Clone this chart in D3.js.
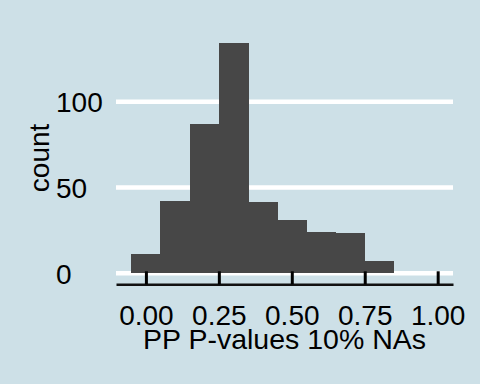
<!DOCTYPE html>
<html>
<head>
<meta charset="utf-8">
<script src="https://cdn.jsdelivr.net/npm/d3@7"></script>
<style>
  body { margin: 0; background: #cde0e7; }
  svg { display: block; }
  text { font-family: "Liberation Sans", Arial, sans-serif; fill: #000; }
</style>
</head>
<body>
<div id="chart"></div>
<script>
// histogram bins (left/right edges) and counts
const binLo = [-0.05, 0.05, 0.15, 0.25, 0.35, 0.45, 0.55, 0.65, 0.75];
const binHi = [0.05, 0.15, 0.25, 0.35, 0.45, 0.55, 0.65, 0.75, 0.85];
const counts = [11, 42, 87, 134, 41, 31, 24, 23, 7];
const xTicks = [0, 0.25, 0.5, 0.75, 1];
const yTicks = [0, 50, 100];
const xLabel = 'PP P-values 10% NAs';
const yLabel = 'count';

const width = 480, height = 384;
const panel = { left: 116, right: 453, top: 31.5, bottom: 284.3 };

const svg = d3.select('#chart')
  .append('svg')
  .attr('width', width)
  .attr('height', height);

svg.append('rect')
  .attr('width', width)
  .attr('height', height)
  .attr('fill', '#cde0e7');

const bins = binLo.map((lo, i) => ({ lo: lo, hi: binHi[i], n: counts[i] }));

// ggplot style 5% expansion
const xMin = d3.min(binLo), xMax = 1;
const xPad = (xMax - xMin) * 0.05;
const x = d3.scaleLinear()
  .domain([xMin - xPad, xMax + xPad])
  .range([panel.left, panel.right]);

const yMax = d3.max(counts);
const y = d3.scaleLinear()
  .domain([-yMax * 0.05, yMax * 1.05])
  .range([panel.bottom, panel.top]);

// horizontal grid
const grid = svg.append('g')
  .attr('transform', `translate(${panel.left},0)`)
  .call(d3.axisLeft(y).tickValues(yTicks).tickSize(-(panel.right - panel.left)).tickFormat(''));
grid.select('.domain').remove();
grid.selectAll('line').attr('stroke', '#fff').attr('stroke-width', 4.5);

// bars
svg.append('g')
  .attr('shape-rendering', 'crispEdges')
  .selectAll('rect')
  .data(bins)
  .enter()
  .append('rect')
  .attr('x', d => x(d.lo))
  .attr('width', d => x(d.hi) - x(d.lo) + 0.5)
  .attr('y', d => y(d.n))
  .attr('height', d => y(0) - y(d.n))
  .attr('fill', '#474747');

// x axis, ticks pointing inward
const xAxis = svg.append('g')
  .attr('transform', `translate(0,${panel.bottom})`)
  .call(d3.axisBottom(x)
    .tickValues(xTicks)
    .tickSizeInner(-13)
    .tickSizeOuter(0)
    .tickFormat(d3.format('.2f')));
xAxis.select('.domain').attr('stroke', '#111').attr('stroke-width', 2.5);
xAxis.selectAll('.tick line').attr('stroke', '#000').attr('stroke-width', 3);
xAxis.selectAll('.tick text')
  .attr('y', 40.7)
  .attr('dy', null)
  .style('font-size', '28px');

// y axis labels, left aligned
const yAxis = svg.append('g')
  .attr('transform', 'translate(56,0)')
  .call(d3.axisLeft(y).tickValues(yTicks).tickSize(0));
yAxis.select('.domain').remove();
yAxis.selectAll('.tick text')
  .attr('x', 0)
  .attr('dy', null)
  .attr('y', 10.5)
  .attr('text-anchor', 'start')
  .style('font-size', '28px');

// axis titles
svg.append('text')
  .attr('x', (panel.left + panel.right) / 2)
  .attr('y', 349.3)
  .attr('text-anchor', 'middle')
  .style('font-size', '28.5px')
  .text(xLabel);

svg.append('text')
  .attr('transform', `translate(48.5,${(panel.top + panel.bottom) / 2}) rotate(-90)`)
  .attr('text-anchor', 'middle')
  .style('font-size', '28px')
  .text(yLabel);
</script>
</body>
</html>
